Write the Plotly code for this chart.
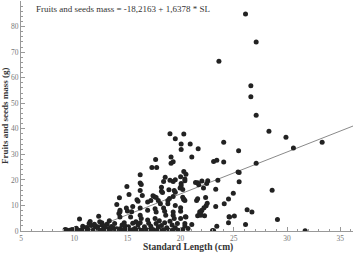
import plotly.graph_objects as go

# Standard length (cm) and fruits+seeds mass (g)
sl = [
    26.1, 27.1, 23.6, 26.6, 26.6, 27.1, 28.3, 29.9, 30.6, 33.3, 24.05, 25.45, 27.1, 25.5, 25.5, 28.6, 26.25, 26.7, 26.1, 29.1, 31.7,
    19.0, 19.5, 20.3, 20.05, 20.05, 20.9, 21.65, 21.05, 19.1, 19.3, 19.1, 17.65, 17.3, 17.75, 16.2, 18.55, 20.0, 23.1, 23.4, 24.05, 25.4,
    16.2, 16.3, 18.4, 19.3, 19.5, 20.4, 21.4, 20.3, 20.5, 20.4, 20.05, 20.05, 19.95, 21.6, 21.7, 22.0, 22.55, 22.45, 23.5, 22.15, 23.3,
    14.95, 15.15, 14.25, 16.2, 16.4, 17.4, 17.55, 17.7, 18.2, 18.3, 18.2, 18.9, 19.4, 19.5, 20.2, 20.3, 19.3, 15.9, 16.0, 16.9, 17.2,
    17.9, 18.1, 18.8, 18.8, 14.0, 14.9, 15.0, 14.3, 15.5, 16.2, 16.9, 17.6, 17.7, 18.4, 18.5, 18.6, 19.3, 19.3, 19.4, 20.0, 20.0, 20.5,
    20.2, 20.3, 20.4, 21.5, 22.5, 22.4, 22.2, 22.0, 21.9, 21.8, 21.6, 22.25, 23.3, 24.1, 24.5, 24.95, 22.35, 21.6,
    24.55, 25.05, 24.5, 23.4, 23.1, 21.05, 20.4, 20.45, 19.5, 20.0, 18.95, 19.0, 21.8, 21.9, 24.6, 23.0,
    10.5, 12.3, 11.4, 11.6, 10.8, 11.2, 10.2, 10.1, 9.15, 9.3, 9.8, 12.0, 12.0, 12.2, 12.6, 12.6, 12.8, 13.1, 13.2, 13.7, 14.0, 14.3,
    14.7, 14.8, 15.0, 15.5, 15.7, 15.8, 16.2, 16.3, 16.2, 16.6, 16.9, 17.2, 17.6, 17.7, 17.9, 18.5, 18.7, 19.2, 19.5, 19.7, 20.4, 20.7,
    15.3, 14.2, 14.3, 14.3, 15.4, 12.4,
    10.4, 10.7, 11.0, 11.3, 11.8, 12.4, 12.7, 13.0, 13.4, 13.9, 14.5, 14.7, 15.2, 15.5, 15.9, 16.1, 16.4, 16.8, 17.1, 17.4, 17.8, 18.1,
    18.4, 18.9, 19.3, 19.8, 20.2, 11.0, 11.9, 12.9, 13.5, 13.8, 14.5, 15.1, 16.0, 17.0, 18.2, 18.0, 19.0, 13.3, 11.5, 9.6, 10.9,
]
mass = [
    84.9, 74.0, 66.4, 56.8, 52.5, 45.3, 39.0, 36.7, 32.5, 34.7, 34.7, 31.4, 26.5, 22.9, 19.3, 15.9, 8.3, 7.4, 2.5, 4.5, 0.1,
    38.1, 36.1, 38.0, 34.0, 31.9, 34.0, 32.2, 29.0, 29.0, 27.1, 26.5, 28.0, 24.8, 24.8, 22.0, 21.0, 21.2, 27.2, 27.7, 27.0, 23.1,
    18.8, 18.2, 19.4, 19.4, 20.1, 19.7, 19.0, 23.3, 22.2, 20.3, 18.6, 17.7, 16.8, 18.9, 18.1, 19.6, 19.7, 18.6, 19.9, 16.8, 16.3,
    17.4, 14.3, 13.0, 15.8, 13.9, 13.8, 13.4, 13.1, 15.6, 15.1, 17.1, 16.1, 15.8, 15.2, 16.2, 12.3, 13.5, 12.2, 11.6, 11.3, 11.9,
    11.9, 10.7, 11.9, 10.7, 10.4, 9.0, 7.8, 8.1, 9.6, 9.0, 8.1, 8.7, 7.4, 9.0, 7.7, 6.2, 7.4, 6.2, 4.9, 7.7, 4.9, 5.5,
    13.2, 12.4, 11.9, 11.9, 10.9, 9.9, 9.1, 8.1, 7.4, 6.8, 6.0, 6.0, 9.6, 10.7, 12.5, 14.8, 13.1, 12.6,
    5.6, 5.9, 3.2, 1.9, 0.1, 2.5, 2.9, 5.6, 10.0, 9.1, 12.7, 19.9, 7.5, 6.2, 5.5, 0.2,
    4.7, 5.8, 2.9, 2.2, 1.9, 1.4, 1.1, 0.8, 0.6, 0.4, 0.6, 1.9, 1.0, 1.7, 3.2, 2.3, 1.3, 2.7, 1.0, 1.1, 0.9, 0.9,
    3.2, 1.9, 0.9, 3.0, 1.0, 3.6, 6.2, 4.9, 3.2, 1.7, 4.3, 1.9, 4.9, 2.9, 1.7, 3.2, 1.3, 2.3, 1.3, 2.9, 2.0, 1.0,
    5.5, 6.8, 5.5, 7.5, 7.5, 3.6,
    0.3, 0.5, 0.2, 0.6, 0.4, 0.3, 0.6, 0.3, 0.5, 0.2, 0.4, 0.7, 0.3, 0.5, 0.2, 0.6, 0.3, 0.5, 0.3, 0.6, 0.4, 0.2,
    0.5, 0.3, 0.5, 0.3, 0.6, 1.3, 2.6, 2.1, 1.8, 2.9, 2.3, 1.7, 2.3, 3.0, 2.2, 4.0, 3.8, 4.0, 3.7, 0.3, 0.9,
]

intercept = -18.2163
slope = 1.6378
fit_x = [-intercept / slope, 36.2]
fit_y = [intercept + slope * v for v in fit_x]

equation = "Fruits and seeds mass = -18,2163 + 1,6378 * SL"
x_title = "Standard Length (cm)"
y_title = "Fruits and seeds mass (g)"
x_ticks = [5, 10, 15, 20, 25, 30, 35]
y_ticks = [0, 10, 20, 30, 40, 50, 60, 70, 80, 90]

SERIF = "Liberation Serif, Times New Roman, serif"

fig = go.Figure()
fig.add_trace(go.Scatter(x=fit_x, y=fit_y, mode="lines",
                         line=dict(color="#8a8a8a", width=1), hoverinfo="skip"))
fig.add_trace(go.Scatter(x=sl, y=mass, mode="markers",
                         marker=dict(color="#222222", size=5, line=dict(width=0))))

axis_common = dict(
    showgrid=False, zeroline=False, showline=True, linecolor="#999999", linewidth=1,
    ticks="inside", ticklen=4, tickcolor="#999999", tickwidth=1,
    tickfont=dict(family=SERIF, size=7.5, color="#777777"),
)
fig.update_xaxes(range=[5, 36.2], tickvals=x_ticks,
                 minor=dict(ticks="inside", ticklen=2, dtick=1, tick0=5, tickcolor="#999999"),
                 **axis_common)
fig.update_yaxes(range=[0, 90], tickvals=y_ticks,
                 minor=dict(ticks="inside", ticklen=2, dtick=2, tick0=0, tickcolor="#999999"),
                 **axis_common)

H_PLOT = 254 - 1 - 23
fig.add_annotation(text=equation, xref="paper", yref="paper", x=0.04, y=0.965,
                   xanchor="left", yanchor="middle", showarrow=False,
                   font=dict(family=SERIF, size=9, color="#333333"))
fig.add_annotation(text="<b>%s</b>" % x_title, xref="paper", yref="paper", x=0.503,
                   y=-23 / H_PLOT, borderpad=0,
                   xanchor="center", yanchor="bottom", showarrow=False,
                   font=dict(family=SERIF, size=9.5, color="#333333"))
fig.add_annotation(text="<b>%s</b>" % y_title, xref="paper", yref="paper", x=-0.048, y=0.5,
                   xanchor="center", yanchor="middle", showarrow=False, textangle=-90,
                   font=dict(family=SERIF, size=9, color="#333333"))

fig.update_layout(
    width=357, height=254, showlegend=False,
    margin=dict(l=21, r=4, t=1, b=23),
    plot_bgcolor="white", paper_bgcolor="white",
)
fig.write_html("out.html")
